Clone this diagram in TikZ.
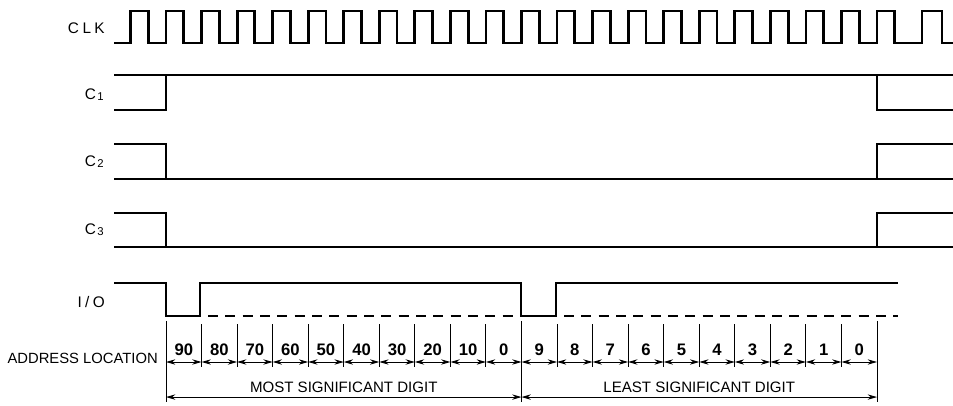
\documentclass[tikz,border=0pt]{standalone}
\usepackage{fontspec}
\setmainfont{Liberation Sans}
\usetikzlibrary{arrows.meta,calc}
\begin{document}
\begin{tikzpicture}[x=0.75pt,y=-0.75pt,
  sig/.style={line width=2.1pt, line join=miter, line cap=butt},
  sigthin/.style={line width=1.6pt, line join=miter},
  tick/.style={line width=0.7pt},
  dim/.style={line width=0.7pt, {Stealth[length=7pt,width=4pt]}-{Stealth[length=7pt,width=4pt]}},
  lbl/.style={font=\fontsize{11.5}{13}\selectfont, anchor=east, inner sep=0pt},
  num/.style={font=\fontsize{12.5}{14}\selectfont\bfseries, inner sep=0pt},
  txt/.style={font=\fontsize{11.3}{13}\selectfont, inner sep=0pt},
  ]
\useasboundingbox (0,0) rectangle (953,406);
% boundaries
\foreach \i in {0,...,20} { \coordinate (b\i) at ({166+35.55*\i},362); }
% labels
\node[lbl] (lclk) at (105,28) {C\kern2.6pt L\kern2.6pt K};
\node[lbl] (lc1) at (104,95) {C\kern1.2pt\raisebox{-0.8pt}{\fontsize{8.5}{9}\selectfont 1}};
\node[lbl] (lc2) at (104,162) {C\kern1.2pt\raisebox{-0.8pt}{\fontsize{8.5}{9}\selectfont 2}};
\node[lbl] (lc3) at (104,230) {C\kern1.2pt\raisebox{-0.8pt}{\fontsize{8.5}{9}\selectfont 3}};
\node[lbl] (lio) at (105,302) {I\kern2.5pt/\kern2.5ptO};
\node[lbl, font=\fontsize{11.1}{13}\selectfont] (laddr) at (158,358) {ADDRESS LOCATION};
% clock
\draw[sig] (114,43) foreach \k in {0,...,21} {
  -- ({130.45+35.55*\k},43) -- ({130.45+35.55*\k},11)
  -- ({148.2+35.55*\k},11) -- ({148.2+35.55*\k},43) }
  -- (922,43) -- (922,11) -- (942,11) -- (942,43) -- (953,43);
% C1
\draw[sigthin] (114,75) -- (953,75);
\draw[sig] (114,110) -- (166,110) -- (166,75);
\draw[sig] (877,75) -- (877,110) -- (953,110);
% C2
\draw[sigthin] (114,179) -- (953,179);
\draw[sig] (114,144) -- (166,144) -- (166,179);
\draw[sig] (877,179) -- (877,144) -- (953,144);
% C3
\draw[sigthin] (114,247) -- (953,247);
\draw[sig] (114,213) -- (166,213) -- (166,247);
\draw[sig] (877,247) -- (877,213) -- (953,213);
% I/O
\draw[sig] (114,283) -- (166,283) -- (166,316) -- (200,316) -- (200,283)
  -- (521,283) -- (521,316) -- (556,316) -- (556,283) -- (898,283);
\draw[sig, dash pattern=on 7.5pt off 5.5pt] (208,316) -- (518,316);
\draw[sig, dash pattern=on 7.5pt off 5.5pt] (564,316) -- (898,316);
% ticks
\foreach \i in {1,...,9,11,12,...,19} { \draw[tick] ([yshift=28.5pt]b\i) -- ([yshift=-4pt]b\i); }
\foreach \i in {0,10,20} { \draw[tick] ([yshift=30.8pt]b\i) -- ([yshift=-30pt]b\i); }
% cell numbers and dimension arrows
\foreach \n [count=\j from 1] in {90,80,70,60,50,40,30,20,10,0,9,8,7,6,5,4,3,2,1,0} {
  \pgfmathtruncatemacro{\i}{\j-1}
  \node[num] (n\i) at ($ (b\i)!0.5!(b\j) + (0,-12) $) {\n};
  \draw[dim] (b\i) -- (b\j);
}
% long arrows
\coordinate (m0) at ([yshift=-26.3pt]b0);
\coordinate (m10) at ([yshift=-26.3pt]b10);
\coordinate (m20) at ([yshift=-26.3pt]b20);
\draw[dim] (m0) -- (m10);
\draw[dim] (m10) -- (m20);
\node[txt] (msd) at ($ (b0)!0.5!(b10) + (0,25) $) {MOST SIGNIFICANT DIGIT};
\node[txt] (lsd) at ($ (b10)!0.5!(b20) + (0,25) $) {LEAST SIGNIFICANT DIGIT};
\end{tikzpicture}
\end{document}
